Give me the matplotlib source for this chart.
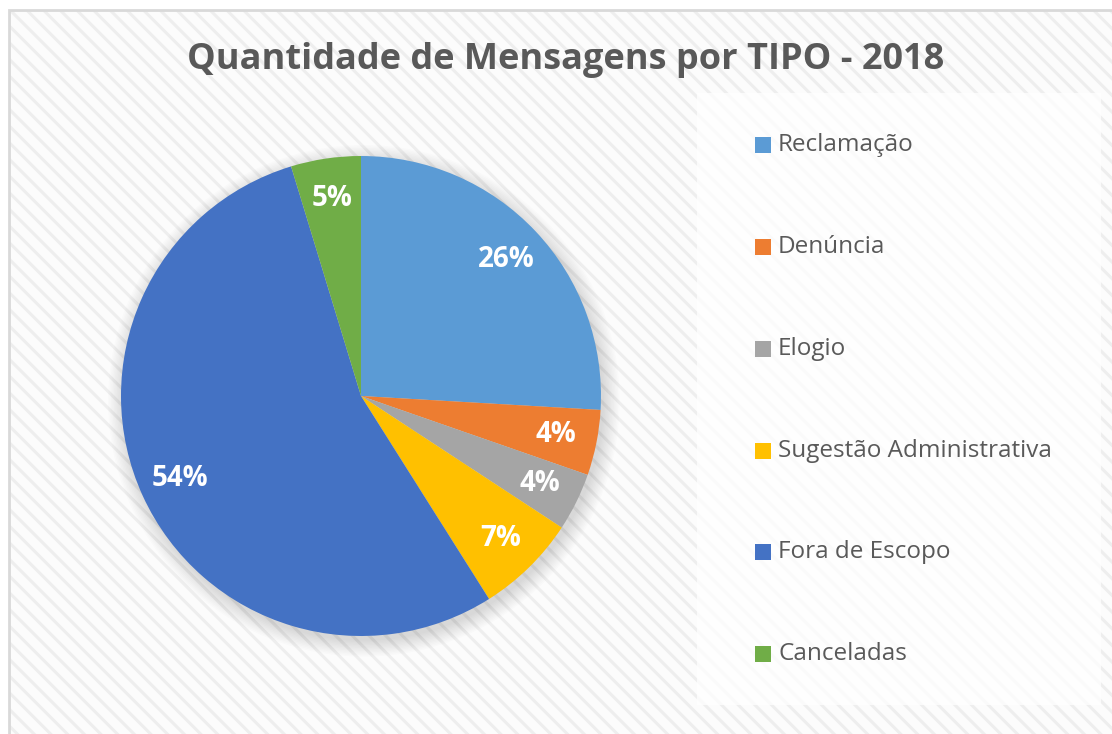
import numpy as np
import matplotlib.pyplot as plt
from matplotlib.patches import Rectangle, Circle

labels = ["Reclamação", "Denúncia", "Elogio", "Sugestão Administrativa",
          "Fora de Escopo", "Canceladas"]
values = [25.9, 4.4, 3.9, 6.8, 54.2, 4.7]
colors = ["#5B9BD5", "#ED7D31", "#A5A5A5", "#FFC000", "#4472C4", "#70AD47"]

W, H = 1112, 734
plt.rcParams['font.family'] = ['Open Sans', 'DejaVu Sans']
plt.rcParams['hatch.linewidth'] = 2.2

fig = plt.figure(figsize=(W / 100, H / 100), dpi=100)
fig.patch.set_facecolor('white')

# striped chart area (hatch takes the edge colour)
bg = Rectangle((9 / W, -0.1), 1, 1.1 - 10 / H, transform=fig.transFigure,
               facecolor='#fcfcfc', edgecolor='#eeeeee', linewidth=0,
               hatch='\\\\', zorder=-3)
fig.patches.append(bg)
border = Rectangle((9 / W, -0.1), 1, 1.1 - 10 / H, transform=fig.transFigure,
                   fill=False, edgecolor='#d9d9d9', linewidth=2, zorder=-2)
fig.patches.append(border)

# legend box
lg = Rectangle((697 / W, 1 - 705 / H), (1101 - 697) / W, (705 - 93) / H,
               transform=fig.transFigure, facecolor='white', alpha=0.75,
               edgecolor='none', zorder=-1)
fig.patches.append(lg)

# pie
cx, cy, r = 361, 396, 240
ax = fig.add_axes([(cx - r) / W, 1 - (cy + r) / H, 2 * r / W, 2 * r / H])
ax.set_zorder(2)

wedges, texts, autotexts = ax.pie(values, colors=colors, startangle=90,
                                  counterclock=False, autopct='%.0f%%',
                                  pctdistance=0.83, radius=1.0,
                                  wedgeprops=dict(linewidth=0))
ax.set_xlim(-1, 1)
ax.set_ylim(-1, 1)
ax.axis('off')

# soft shadow
for i in range(12):
    ax.add_patch(Circle((0.012, -0.02), 1.0 + i * 0.006, facecolor='black',
                        alpha=0.012, edgecolor='none', zorder=0,
                        clip_on=False))

for t in autotexts:
    t.set_color('white')
    t.set_fontsize(20)
    t.set_fontweight('bold')
for w in wedges:
    w.set_zorder(2)

fig.text(566 / W, 1 - 60 / H, "Quantidade de Mensagens por TIPO - 2018",
         ha='center', va='center', fontsize=26, fontweight='bold',
         color='#595959')

# legend entries
ys = [145, 247, 349, 451, 552, 654]
for lab, col, y in zip(labels, colors, ys):
    fig.patches.append(Rectangle((755 / W, 1 - (y + 8) / H), 16 / W, 16 / H,
                                 transform=fig.transFigure, facecolor=col,
                                 edgecolor='none', zorder=3))
    fig.text(778 / W, 1 - y / H, lab, ha='left', va='center', fontsize=17.5,
             color='#595959')

fig.savefig('out.png', dpi=100)
